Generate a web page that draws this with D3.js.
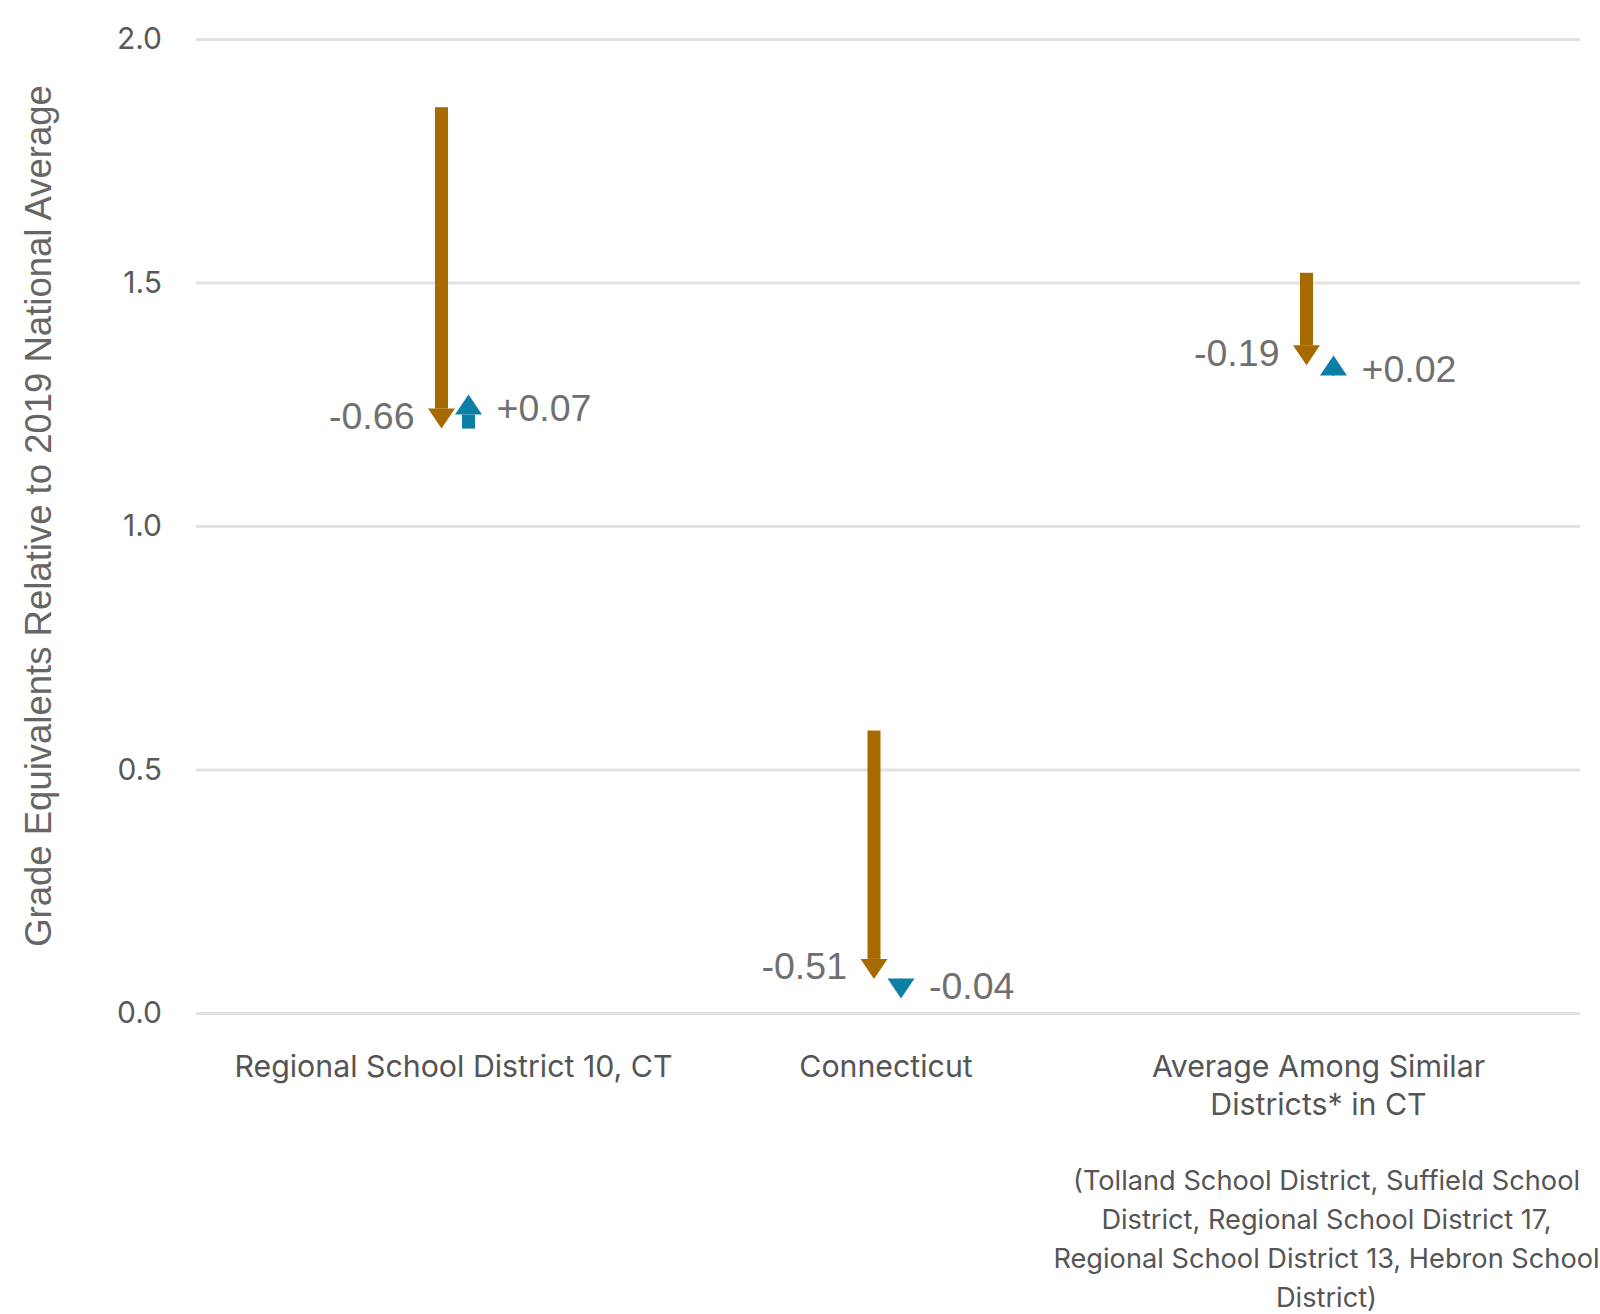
<!DOCTYPE html>
<html>
<head>
<meta charset="utf-8">
<script src="https://cdn.jsdelivr.net/npm/d3@7"></script>
<style>
  body { margin: 0; background: #fff; }
  svg { display: block; }
</style>
</head>
<body>
<div id="chart"></div>
<script>
// chart values
const categories = ['Regional School District 10, CT', 'Connecticut', 'Average Among Similar Districts* in CT'];
const categoryLines = [['Regional School District 10, CT'], ['Connecticut'], ['Average Among Similar', 'Districts* in CT']];
const start2019 = [1.86, 0.58, 1.52];
const change2022 = [-0.66, -0.51, -0.19];
const change2023 = [0.07, -0.04, 0.02];
const yTicks = [0, 0.5, 1.0, 1.5, 2.0];
const footnote = ['(Tolland School District, Suffield School', 'District, Regional School District 17,', 'Regional School District 13, Hebron School', 'District)'];

const width = 1600;
const height = 1314;
const margin = { top: 39, right: 20, bottom: 301, left: 196 };
const brown = '#a66a00';
const blue = '#0b7fa6';
const headLen = 20;
const headW = 27;
const shaftW = 13;

const svg = d3.select('#chart')
    .append('svg')
        .attr('width', width)
        .attr('height', height);

const x = d3.scalePoint()
    .domain(categories)
    .range([margin.left, width - margin.right])
    .padding(0.6);

const y = d3.scaleLinear()
    .domain([0, 2])
    .range([height - margin.bottom, margin.top]);

// gridlines + tick labels
const yAxis = d3.axisLeft(y)
    .tickValues(yTicks)
    .tickFormat(d3.format('.1f'))
    .tickSize(-(width - margin.right - margin.left))
    .tickPadding(34);

svg.append('g')
    .attr('transform', `translate(${margin.left},0)`)
    .call(yAxis)
    .call(g => g.select('.domain').remove())
    .call(g => g.selectAll('.tick line').attr('stroke', '#e2e2e2').attr('stroke-width', 3))
    .call(g => g.selectAll('.tick text')
        .attr('fill', '#595959')
        .style('font-family', 'Inter, sans-serif')
        .style('font-size', '30px'));

svg.append('text')
    .attr('transform', `translate(51,${(y(0) + y(2)) / 2 - 10}) rotate(-90)`)
    .attr('text-anchor', 'middle')
    .attr('fill', '#666')
    .style('font-family', '"Liberation Sans", Arial, sans-serif')
    .style('font-size', '36.5px')
    .text('Grade Equivalents Relative to 2019 National Average');

// category labels
categories.forEach((c, i) => {
    const t = svg.append('text')
        .attr('text-anchor', 'middle')
        .attr('fill', '#555')
        .style('font-family', 'Inter, sans-serif')
        .style('font-size', '30.3px');
    categoryLines[i].forEach((line, j) => {
        t.append('tspan')
            .attr('x', x(c) - 2)
            .attr('y', 1077 + j * 38)
            .text(line);
    });
});

const foot = svg.append('text')
    .attr('text-anchor', 'middle')
    .attr('fill', '#555')
    .style('font-family', 'Inter, sans-serif')
    .style('font-size', '27.2px');
footnote.forEach((line, j) => {
    foot.append('tspan')
        .attr('x', x(categories[2]) + 6)
        .attr('y', 1190 + j * 39)
        .text(line);
});

// arrow: tip at end, head fixed size, shaft from start to head base
const drawArrow = (cx, from, to, color) => {
    const y0 = y(from);
    const y1 = y(to);
    const dir = y1 > y0 ? 1 : -1;
    const base = y1 - dir * headLen;
    if ((base - y0) * dir > 0) {
        svg.append('rect')
            .attr('x', cx - shaftW / 2)
            .attr('y', Math.min(y0, base))
            .attr('width', shaftW)
            .attr('height', Math.abs(base - y0))
            .attr('fill', color);
    } else {
        svg.append('line')
            .attr('x1', cx).attr('x2', cx)
            .attr('y1', y0).attr('y2', base)
            .attr('stroke', color).attr('stroke-width', 1.5);
    }
    svg.append('path')
        .attr('d', `M${cx - headW / 2},${base}L${cx + headW / 2},${base}L${cx},${y1}Z`)
        .attr('fill', color);
    return y1 - dir * 13;
};

const fmt = d => (d > 0 ? '+' : '') + d.toFixed(2);

categories.forEach((c, i) => {
    const end1 = start2019[i] + change2022[i];
    const end2 = end1 + change2023[i];
    const bx = x(c) - 14;
    const ux = x(c) + 13;

    const m1 = drawArrow(bx, start2019[i], end1, brown);
    const m2 = drawArrow(ux, end1, end2, blue);

    svg.append('text')
        .attr('x', bx - 27)
        .attr('y', m1)
        .attr('dy', '0.36em')
        .attr('text-anchor', 'end')
        .attr('fill', '#707070')
        .style('font-family', '"Liberation Sans", Arial, sans-serif')
        .style('font-size', '37.5px')
        .text(fmt(change2022[i]));

    svg.append('text')
        .attr('x', ux + 28)
        .attr('y', m2)
        .attr('dy', '0.36em')
        .attr('text-anchor', 'start')
        .attr('fill', '#707070')
        .style('font-family', '"Liberation Sans", Arial, sans-serif')
        .style('font-size', '37.5px')
        .text(fmt(change2023[i]));
});
</script>
</body>
</html>
